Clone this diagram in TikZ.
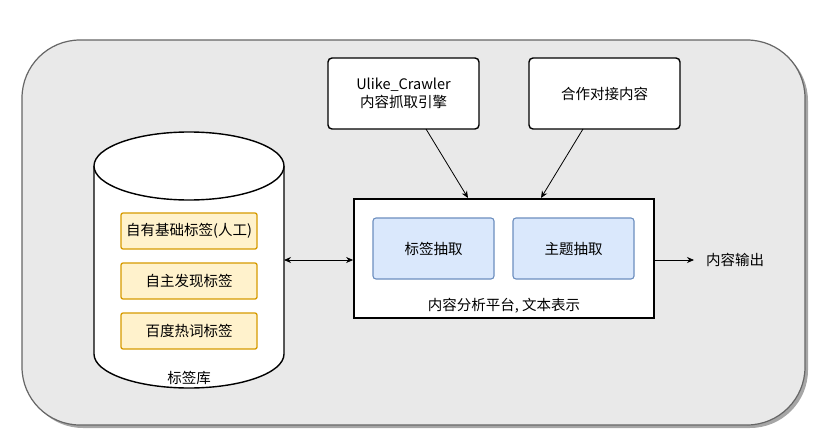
\documentclass[tikz,border=0pt]{standalone}
\usepackage{fontspec}
\setmainfont{Noto Sans CJK SC}
\usepackage{xcolor}
\usepackage{tikz}
\usetikzlibrary{arrows.meta,positioning,calc}
\definecolor{panel}{HTML}{E9E9E9}
\definecolor{panelline}{HTML}{666666}
\definecolor{tagfill}{HTML}{FFF2CC}
\definecolor{tagline}{HTML}{D79B00}
\definecolor{stepfill}{HTML}{DAE8FC}
\definecolor{stepline}{HTML}{6C8EBF}

\begin{document}
\begin{tikzpicture}[
  x=1pt,y=-1pt,
  font=\fontsize{14.5pt}{18pt}\selectfont,
  src/.style={rounded corners=4pt,draw=black,fill=white,line width=1.4pt,
              minimum width=151pt,minimum height=71pt,align=center,inner sep=2pt},
  tagbox/.style={rounded corners=2pt,draw=tagline,fill=tagfill,line width=1.3pt,
                 minimum width=136pt,minimum height=36pt,inner sep=1pt},
  stepbox/.style={rounded corners=3pt,draw=stepline,fill=stepfill,line width=1.1pt,
                  minimum width=121pt,minimum height=61pt,inner sep=1pt},
  arr/.style={-{Stealth[length=7pt,width=6pt]},line width=0.8pt},
  dbl/.style={{Stealth[length=7pt,width=6pt]}-{Stealth[length=7pt,width=6pt]},line width=0.8pt}
]
\useasboundingbox (0,0) rectangle (822,447);
% background panel with shadow
\fill[black!35,rounded corners=58pt] (25,43) rectangle (808,428);
\draw[fill=panel,draw=panelline,line width=1.2pt,rounded corners=58pt] (22,40) rectangle (805,425);

% tag library (cylinder)
\coordinate (libL) at (94,260);
\coordinate (libR) at (284,260);
\draw[fill=white,line width=1.4pt] (94,166) -- (94,354)
  arc[start angle=180,end angle=0,x radius=95,y radius=34] -- (284,166);
\draw[fill=white,line width=1.4pt] (189,166) ellipse[x radius=95,y radius=34];
\node (lib) at (189,378) {标签库};
\node[tagbox] (t1) at (189,231) {自有基础标签(人工)};
\node[tagbox] (t2) at (189,281) {自主发现标签};
\node[tagbox] (t3) at (189,331) {百度热词标签};

% sources
\node[src] (crawl) at (403.5,93.5) {Ulike\_Crawler\\内容抓取引擎};
\node[src] (coop)  at (604.5,93.5) {合作对接内容};

% analysis platform
\node[draw,fill=white,line width=1.8pt,minimum width=300pt,minimum height=119pt] (plat) at (504,258.5) {};
\node[stepbox] (tagx)   at (433.5,248.5) {标签抽取};
\node[stepbox] (topicx) at (573.5,248.5) {主题抽取};
\node (platlbl) at (504,306) {内容分析平台, 文本表示};
\node (out) at (735,260) {内容输出};

\draw[arr] (426,129) -- (468,198);
\draw[arr] (583,129) -- (541,198);
\draw[dbl] (libR) -- (plat.west |- libR);
\draw[arr] (plat.east |- out) -- (694,260);
\end{tikzpicture}
\end{document}
